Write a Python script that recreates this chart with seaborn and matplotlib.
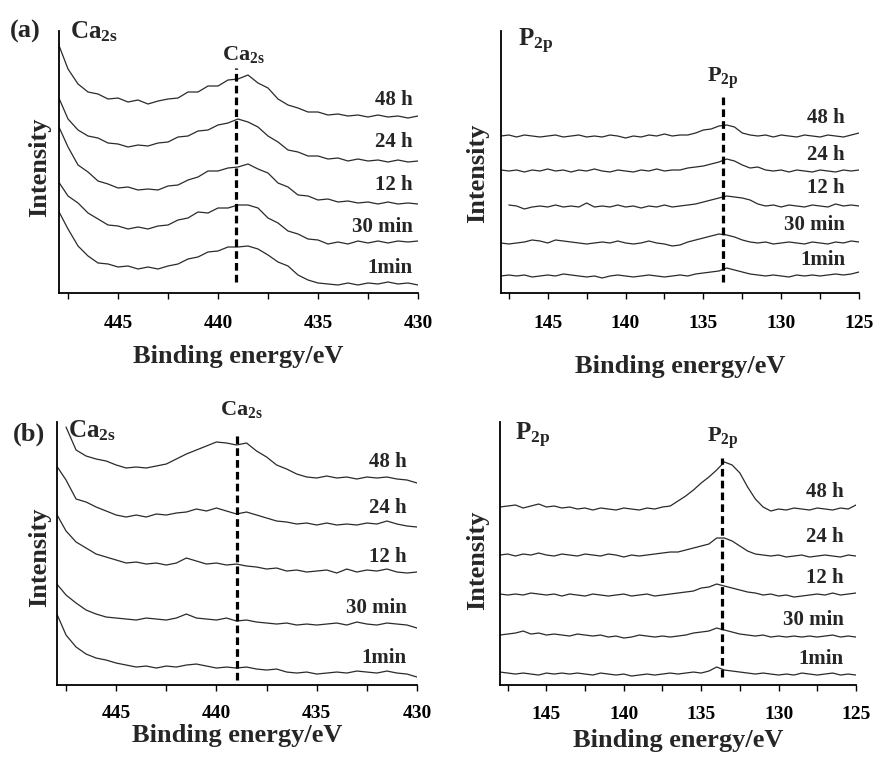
import numpy as np
import matplotlib
matplotlib.use('Agg')
import matplotlib.pyplot as plt
from matplotlib.ticker import MultipleLocator
import pandas as pd
import seaborn as sns

# 时间标签（从上到下）
times = ['48 h', '24 h', '12 h', '30 min', '1min']

# 结合能网格
ca_ev = np.arange(448.0, 429.9, -0.5)
p_ev = np.arange(148.0, 124.9, -0.5)

nan = np.nan

# (a) Ca2s
a_ca_48h = [250, 224, 209, 201, 199, 194, 195, 191, 193, 189, 192, 194, 195, 201, 201, 207, 207, 213, 214,
            218, 210, 205, 194, 188, 185, 181, 181, 178, 179, 177, 178, 176, 178, 176, 177, 175, 177]
a_ca_24h = [197, 174, 163, 157, 155, 150, 149, 146, 148, 147, 150, 151, 156, 157, 162, 163, 168, 170, 174,
            171, 166, 157, 151, 143, 141, 137, 137, 134, 135, 132, 134, 132, 133, 131, 133, 131, 132]
a_ca_12h = [168, 146, 128, 121, 112, 109, 105, 106, 103, 104, 103, 107, 108, 113, 116, 122, 122, 125, 126,
            129, 124, 120, 110, 106, 98, 97, 93, 94, 91, 92, 90, 91, 89, 91, 89, 90, 89]
a_ca_30m = [112, 97, 90, 80, 74, 68, 67, 64, 66, 64, 67, 68, 73, 75, 81, 80, 85, 85, 88,
            88, 85, 75, 70, 62, 59, 54, 53, 49, 51, 49, 52, 50, 52, 50, 52, 51, 52]
a_ca_1m = [83, 64, 47, 37, 30, 29, 26, 27, 24, 26, 24, 27, 29, 34, 36, 41, 42, 46, 46,
           47, 44, 38, 31, 27, 18, 13, 10, 9, 8, 10, 8, 10, 9, 11, 9, 10, 8]

# (a) P2p
a_p_48h = [157, 158, 156, 158, 157, 156, 157, 158, 156, 157, 158, 156, 157, 156, 158, 157, 155, 157, 156, 158,
           157, 159, 157, 158, 158, 160, 163, 164, 167, 168, 166, 160, 158, 157, 158, 156, 158, 157, 156, 158,
           157, 156, 158, 157, 156, 158, 160]
a_p_24h = [123, 122, 123, 121, 123, 122, 124, 122, 123, 121, 123, 122, 124, 122, 121, 123, 122, 121, 123, 122,
           124, 122, 123, 123, 125, 126, 127, 129, 131, 134, 132, 128, 125, 126, 123, 122, 123, 121, 123, 122,
           121, 123, 122, 121, 123, 122, 123]
a_p_12h = [nan, 88, 87, 84, 86, 87, 86, 88, 86, 87, 86, 90, 86, 87, 86, 88, 86, 87, 85, 87,
           86, 88, 86, 87, 88, 89, 91, 93, 95, 97, 96, 95, 93, 89, 87, 88, 86, 88, 87, 86,
           88, 87, 86, 89, 87, 88, 87]
a_p_30m = [50, 49, 50, 51, 53, 52, 50, 53, 52, 51, 50, 49, 50, 51, 50, 52, 50, 49, 50, 52,
           50, 49, 47, 48, 51, 53, 55, 57, 59, 58, 56, 53, 51, 50, 51, 49, 50, 51, 50, 49,
           51, 50, 49, 51, 50, 52, 51]
a_p_1m = [17, 18, 17, 18, 16, 17, 18, 17, 19, 18, 17, 16, 17, 15, 17, 18, 17, 16, 17, 18,
          17, 16, 17, 18, 17, 19, 20, 21, 22, 25, 23, 21, 19, 18, 17, 18, 17, 16, 18, 17,
          18, 17, 18, 19, 18, 19, 21]

# (b) Ca2s
b_ca_48h = [nan, 258, 235, 229, 226, 224, 220, 217, 218, 217, 219, 221, 226, 231, 235, 239, 243, 242, 240,
            242, 234, 228, 220, 216, 211, 208, 207, 209, 207, 208, 206, 208, 207, 208, 206, 205, 202]
b_ca_24h = [220, 205, 186, 183, 178, 174, 170, 168, 170, 168, 171, 170, 172, 173, 176, 174, 177, 174, 171,
            173, 170, 167, 164, 163, 161, 162, 160, 162, 160, 161, 160, 162, 161, 164, 161, 159, 158]
b_ca_12h = [172, 154, 143, 137, 131, 128, 125, 122, 123, 121, 122, 120, 122, 127, 124, 121, 122, 120, 121,
            119, 118, 116, 117, 114, 115, 113, 114, 115, 112, 116, 113, 115, 114, 116, 113, 112, 113]
b_ca_30m = [102, 90, 82, 75, 71, 68, 67, 66, 65, 67, 66, 65, 67, 71, 67, 66, 65, 67, 64,
            65, 63, 62, 61, 62, 60, 61, 60, 61, 62, 60, 63, 61, 60, 62, 61, 60, 57]
b_ca_1m = [73, 50, 38, 31, 27, 25, 22, 20, 18, 19, 17, 19, 18, 20, 21, 19, 17, 18, 17,
           18, 16, 15, 16, 13, 12, 13, 11, 12, 13, 12, 14, 13, 12, 14, 12, 11, 8]

# (b) P2p
b_p_48h = [178, 179, 180, 177, 179, 181, 178, 179, 177, 178, 176, 177, 175, 177, 176, 175, 177, 176, 175, 177,
           176, 178, 179, 184, 189, 195, 202, 208, 215, 223, 220, 212, 198, 186, 178, 174, 176, 175, 177, 176,
           175, 177, 176, 175, 177, 176, 180]
b_p_24h = [130, 131, 129, 131, 130, 132, 130, 129, 131, 130, 129, 131, 130, 129, 131, 130, 128, 130, 129, 130,
           131, 132, 133, 133, 135, 137, 139, 141, 147, 147, 144, 139, 134, 131, 130, 129, 130, 128, 129, 130,
           128, 129, 130, 129, 128, 130, 129]
b_p_12h = [91, 90, 91, 90, 92, 91, 90, 91, 89, 91, 90, 89, 91, 90, 89, 90, 91, 89, 90, 91,
           89, 90, 91, 92, 93, 94, 97, 98, 101, 99, 97, 95, 93, 92, 90, 91, 89, 90, 88, 89,
           90, 91, 90, 92, 90, 91, 92]
b_p_30m = [50, 51, 52, 54, 51, 52, 50, 51, 50, 49, 51, 50, 49, 50, 48, 49, 47, 48, 50, 49,
           48, 49, 48, 49, 50, 52, 53, 54, 57, 55, 53, 51, 50, 49, 50, 48, 49, 48, 49, 48,
           49, 48, 49, 50, 48, 49, 48]
b_p_1m = [13, 12, 11, 12, 11, 10, 12, 11, 12, 11, 12, 11, 10, 12, 11, 10, 11, 9, 10, 11,
          10, 11, 12, 11, 12, 13, 12, 14, 18, 15, 14, 13, 12, 11, 12, 11, 10, 11, 10, 12,
          11, 10, 11, 12, 10, 11, 10]


def to_long(ev, curves):
    frames = []
    for t, y in zip(times, curves):
        frames.append(pd.DataFrame({'ev': ev, 'inten': y, 'time': t}))
    return pd.concat(frames, ignore_index=True)


sns.set_theme(style='ticks')
plt.rcParams['font.family'] = ['Liberation Serif', 'DejaVu Serif']
plt.rcParams['font.weight'] = 'bold'
plt.rcParams['mathtext.fontset'] = 'custom'
plt.rcParams['mathtext.rm'] = 'Liberation Serif:bold'
plt.rcParams['mathtext.it'] = 'Liberation Serif:italic:bold'
plt.rcParams['mathtext.bf'] = 'Liberation Serif:bold'

fig = plt.figure(figsize=(8.77, 7.62), dpi=100)

# 每个子图: 位置, 数据, x范围, 标签位置, 虚线位置
panels = [
    dict(rect=[0.0673, 0.6155, 0.4093, 0.3438], ev=ca_ev,
         curves=[a_ca_48h, a_ca_24h, a_ca_12h, a_ca_30m, a_ca_1m],
         xlim=(447.95, 430), ylim=(0, 262), ticks=[445, 440, 435, 430],
         lab_x=430.25, lab_y=[193, 151, 108, 66, 25],
         line_x=439.1, line_y=(11, 225), peak='Ca', peak_x=438.75, peak_y=233,
         tag='(a)', tag_pos=(-0.136, 0.975), name_pos=(0.031, 0.973),
         xlab_y=-0.244, ylab=(-0.053, 0.48), pad=12),
    dict(rect=[0.5713, 0.6155, 0.4082, 0.3438], ev=p_ev,
         curves=[a_p_48h, a_p_24h, a_p_12h, a_p_30m, a_p_1m],
         xlim=(148, 125), ylim=(0, 262), ticks=[145, 140, 135, 130, 125],
         lab_x=125.9, lab_y=[175, 138, 105, 68, 33],
         line_x=133.75, line_y=(11, 196), peak='P', peak_x=133.75, peak_y=211,
         tag=None, tag_pos=None, name_pos=(0.047, 0.94),
         xlab_y=-0.282, ylab=(-0.064, 0.458), pad=12),
    dict(rect=[0.065, 0.1010, 0.4105, 0.3452], ev=ca_ev,
         curves=[b_ca_48h, b_ca_24h, b_ca_12h, b_ca_30m, b_ca_1m],
         xlim=(447.95, 430), ylim=(0, 263), ticks=[445, 440, 435, 430],
         lab_x=430.5, lab_y=[223, 177, 128, 77, 27],
         line_x=439.0, line_y=(5, 253), peak='Ca', peak_x=438.75, peak_y=270,
         tag='(b)', tag_pos=(-0.122, 0.93), name_pos=(0.031, 0.943),
         xlab_y=-0.19, ylab=(-0.047, 0.487), pad=10.5),
    dict(rect=[0.5701, 0.1010, 0.4059, 0.3452], ev=p_ev,
         curves=[b_p_48h, b_p_24h, b_p_12h, b_p_30m, b_p_1m],
         xlim=(148, 125), ylim=(0, 263), ticks=[145, 140, 135, 130, 125],
         lab_x=125.8, lab_y=[193, 148, 107, 65, 26],
         line_x=133.65, line_y=(8, 227), peak='P', peak_x=133.6, peak_y=243,
         tag=None, tag_pos=None, name_pos=(0.042, 0.93),
         xlab_y=-0.209, ylab=(-0.062, 0.475), pad=11),
]

for p in panels:
    ax = fig.add_axes(p['rect'])
    df = to_long(p['ev'], p['curves'])
    sns.lineplot(data=df, x='ev', y='inten', hue='time', palette=['#2a2a2a'] * 5,
                 linewidth=0.9, legend=False, ax=ax, estimator=None, sort=False)
    ax.set_xlim(*p['xlim'])
    ax.set_ylim(*p['ylim'])
    sns.despine(ax=ax)
    for s in ['left', 'bottom']:
        ax.spines[s].set_linewidth(1.3)
        ax.spines[s].set_color('black')
    ax.set_yticks([])
    ax.set_xticks(p['ticks'])
    ax.xaxis.set_minor_locator(MultipleLocator(2.5))
    ax.tick_params(axis='x', which='both', direction='out', length=4, width=1.0,
                   colors='black', labelsize=14, pad=p['pad'])
    for lb in ax.get_xticklabels():
        lb.set_fontweight('bold')

    # 时间标签
    for t, ly in zip(times, p['lab_y']):
        ax.text(p['lab_x'], ly, t, ha='right', va='center', fontsize=15, fontweight='bold')

    # 峰位虚线
    ax.plot([p['line_x'], p['line_x']], list(p['line_y']), color='black', lw=2.3,
            linestyle=(0, (2.4, 1.3)))
    if p['peak'] == 'Ca':
        peak_txt = r'Ca$_{\mathrm{2s}}$'
        name_txt = r'Ca$_{\mathrm{2s}}$'
    else:
        peak_txt = r'P$_{\mathrm{2p}}$'
        name_txt = r'P$_{\mathrm{2p}}$'
    ax.text(p['peak_x'], p['peak_y'], peak_txt, ha='center', va='baseline', fontsize=16,
            fontweight='bold', clip_on=False)
    ax.text(p['name_pos'][0], p['name_pos'][1], name_txt, transform=ax.transAxes,
            ha='left', va='baseline', fontsize=18, fontweight='bold')
    if p['tag']:
        ax.text(p['tag_pos'][0], p['tag_pos'][1], p['tag'], transform=ax.transAxes,
                ha='left', va='baseline', fontsize=19, fontweight='bold')

    ax.set_xlabel('Binding energy/eV', fontsize=19, fontweight='bold')
    ax.xaxis.label.set_va('center')
    ax.xaxis.set_label_coords(0.5, p['xlab_y'])
    ax.set_ylabel('Intensity', fontsize=19, fontweight='bold')
    ax.yaxis.label.set_va('center')
    ax.yaxis.set_label_coords(p['ylab'][0], p['ylab'][1])

fig.savefig('out.png', dpi=100)
